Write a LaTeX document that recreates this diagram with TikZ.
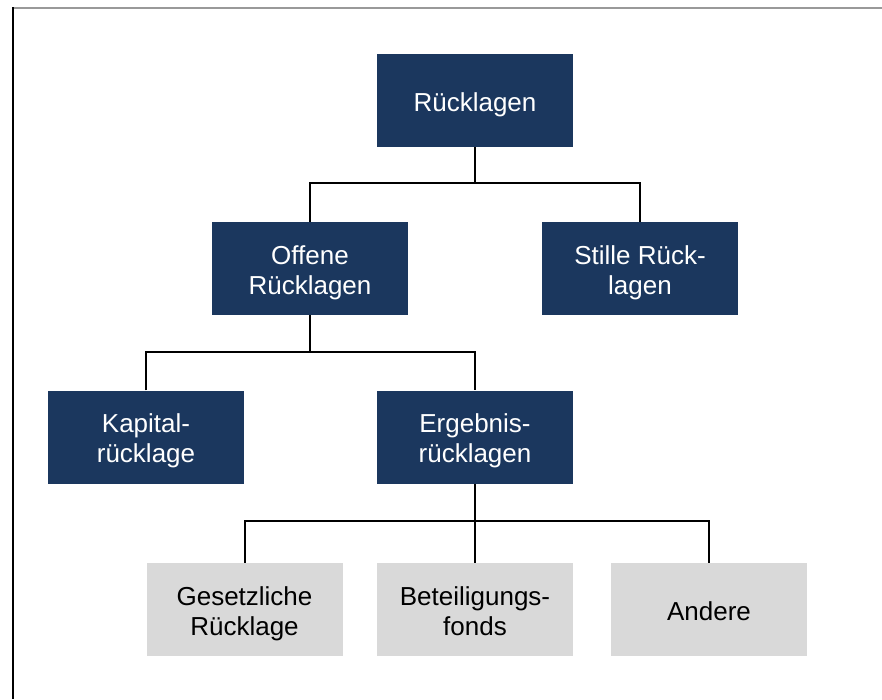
\documentclass[tikz,border=0pt]{standalone}
\usepackage{fontspec}
\setmainfont{Liberation Sans}
\definecolor{navy}{HTML}{1B375E}
\definecolor{lgray}{HTML}{D9D9D9}
\newcommand\toprl{\rule{0pt}{27pt}}
\begin{document}
\begin{tikzpicture}[x=1pt,y=-1pt,
  box/.style={minimum width=196pt,minimum height=93pt,inner sep=0pt,align=center,
    font=\fontsize{26}{30}\selectfont,
    execute at end node={\rule[-5.5pt]{0pt}{5.5pt}}},
  dark/.style={box,fill=navy,text=white},
  light/.style={box,fill=lgray,text=black},
  conn/.style={draw=black,line width=2pt}]
\useasboundingbox (0,0) rectangle (882,699);
\draw[gray!80,line width=1.5pt] (13,8) -- (882,8);
\draw[black,line width=2.5pt] (13,7) -- (13,699);
\node[dark] (r) at (475,100.5) {\toprl Rücklagen};
\node[dark] (o) at (310,268.5) {\toprl Offene\\Rücklagen};
\node[dark] (s) at (640,268.5) {\toprl Stille Rück-\\lagen};
\node[dark] (k) at (146,437) {\toprl Kapital-\\rücklage};
\node[dark] (e) at (475,437) {\toprl Ergebnis-\\rücklagen};
\node[light] (g) at (244.5,609.5) {\toprl Gesetzliche\\Rücklage};
\node[light] (b) at (475,609.5) {\toprl Beteiligungs-\\fonds};
\node[light] (a) at (709,609.5) {\toprl Andere};
\coordinate (j1) at (475,183);
\coordinate (j2) at (310,352);
\coordinate (j3) at (475,521);
\draw[conn] (r.south) -- (j1);
\draw[conn] (o.north) |- (j1) -| (s.north);
\draw[conn] (o.south) -- (j2);
\draw[conn] (k.north) |- (j2) -| (e.north);
\draw[conn] (e.south) -- (j3);
\draw[conn] (g.north) |- (j3) -| (a.north);
\draw[conn] (j3) -- (b.north);
\end{tikzpicture}
\end{document}
